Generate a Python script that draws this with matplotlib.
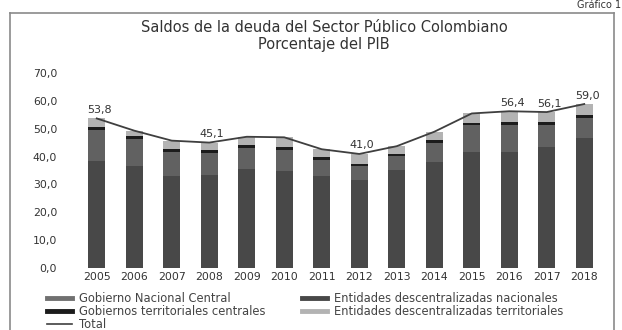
import matplotlib.pyplot as plt
from matplotlib.lines import Line2D
import numpy as np

years = ["2005", "2006", "2007", "2008", "2009", "2010", "2011",
         "2012", "2013", "2014", "2015", "2016", "2017", "2018"]

# componentes de la deuda, % del PIB
gob_nacional = [38.5, 36.5, 33.0, 33.5, 35.5, 35.0, 33.0, 31.5, 35.2, 38.2, 41.8, 41.8, 43.6, 46.6]
ent_desc_nacionales = [11.2, 9.9, 8.7, 7.8, 7.6, 7.5, 5.9, 5.0, 4.9, 6.7, 9.5, 9.7, 7.9, 7.3]
gob_territoriales = [1.0, 1.0, 1.0, 1.0, 1.0, 1.0, 1.0, 1.0, 1.0, 1.0, 1.0, 1.0, 1.0, 1.0]
ent_desc_territoriales = [3.1, 2.0, 3.1, 2.8, 3.1, 3.5, 2.8, 3.5, 2.7, 3.1, 3.3, 3.9, 3.6, 4.1]
total = [53.8, 49.4, 45.8, 45.1, 47.2, 47.0, 42.7, 41.0, 43.8, 49.0, 55.6, 56.4, 56.1, 59.0]
labeled_years = ["2005", "2008", "2012", "2016", "2017", "2018"]

c_gnc = "#484848"
c_edn = "#616161"
c_gtc = "#1c1c1c"
c_edt = "#b3b3b3"
c_total = "#3f3f3f"
txt = "#333333"

plt.rcParams["font.family"] = ["DejaVu Sans"]

fig = plt.figure(figsize=(6.22, 3.30), dpi=100)
ax = fig.add_axes([78 / 622, 1 - 267.7 / 330, 525 / 622, (267.7 - 73.5) / 330])

x = np.arange(len(years))
w = 0.46
bottom = np.zeros(len(years))
for vals, col in [(gob_nacional, c_gnc), (ent_desc_nacionales, c_edn),
                  (gob_territoriales, c_gtc), (ent_desc_territoriales, c_edt)]:
    ax.bar(x, vals, w, bottom=bottom, color=col, linewidth=0)
    bottom += np.array(vals)

ax.plot(x, total, color=c_total, lw=1.3)

for i, y in enumerate(years):
    if y in labeled_years:
        ax.annotate(f"{total[i]:.1f}".replace(".", ","), (x[i], total[i]),
                    xytext=(2, 2.5), textcoords="offset points", ha="center",
                    va="bottom", fontsize=8, color=txt)

ax.set_xlim(-0.5, len(years) - 0.5)
ax.set_ylim(0, 70)
ax.set_yticks(np.arange(0, 71, 10))
ax.set_yticklabels([f"{v:.1f}".replace(".", ",") for v in np.arange(0, 71, 10)])
ax.set_xticks(x)
ax.set_xticklabels(years)
ax.tick_params(length=0, labelsize=7.8, colors=txt, pad=3)
ax.tick_params(axis="y", pad=15)
for s in ax.spines.values():
    s.set_visible(False)

fig.text(0.521, 1 - 27 / 330, "Saldos de la deuda del Sector Público Colombiano",
         ha="center", va="center", fontsize=10.5, color=txt)
fig.text(0.521, 1 - 45 / 330, "Porcentaje del PIB",
         ha="center", va="center", fontsize=10.5, color=txt)
fig.text(0.998, 1 - 5 / 330, "Gráfico 1", ha="right", va="center",
         fontsize=7, color=txt)

# marco del gráfico
fl, fr, ft = 10 / 622, 614 / 622, 1 - 13 / 330
for xs, ys in [([fl, fr], [ft, ft]), ([fl, fl], [0, ft]), ([fr, fr], [0, ft])]:
    fig.add_artist(Line2D(xs, ys, color="#8a8a8a", lw=1.2))

handles = [
    Line2D([], [], color="#707070", lw=3.5),
    Line2D([], [], color=c_gtc, lw=3.5),
    Line2D([], [], color=c_total, lw=1.2),
    Line2D([], [], color=c_gnc, lw=3.5),
    Line2D([], [], color=c_edt, lw=3.5),
]
labels = ["Gobierno Nacional Central", "Gobiernos territoriales centrales", "Total",
          "Entidades descentralizadas nacionales", "Entidades descentralizadas territoriales"]
fig.legend(handles, labels, loc="upper left", bbox_to_anchor=(47 / 622, 1 - 292 / 330),
           ncol=2, frameon=False, fontsize=8.3, labelcolor="#444444",
           handlelength=2.2, handletextpad=0.55, columnspacing=3.2,
           labelspacing=0.0, borderpad=0, borderaxespad=0)

fig.savefig("out.png", dpi=100, facecolor="white")
